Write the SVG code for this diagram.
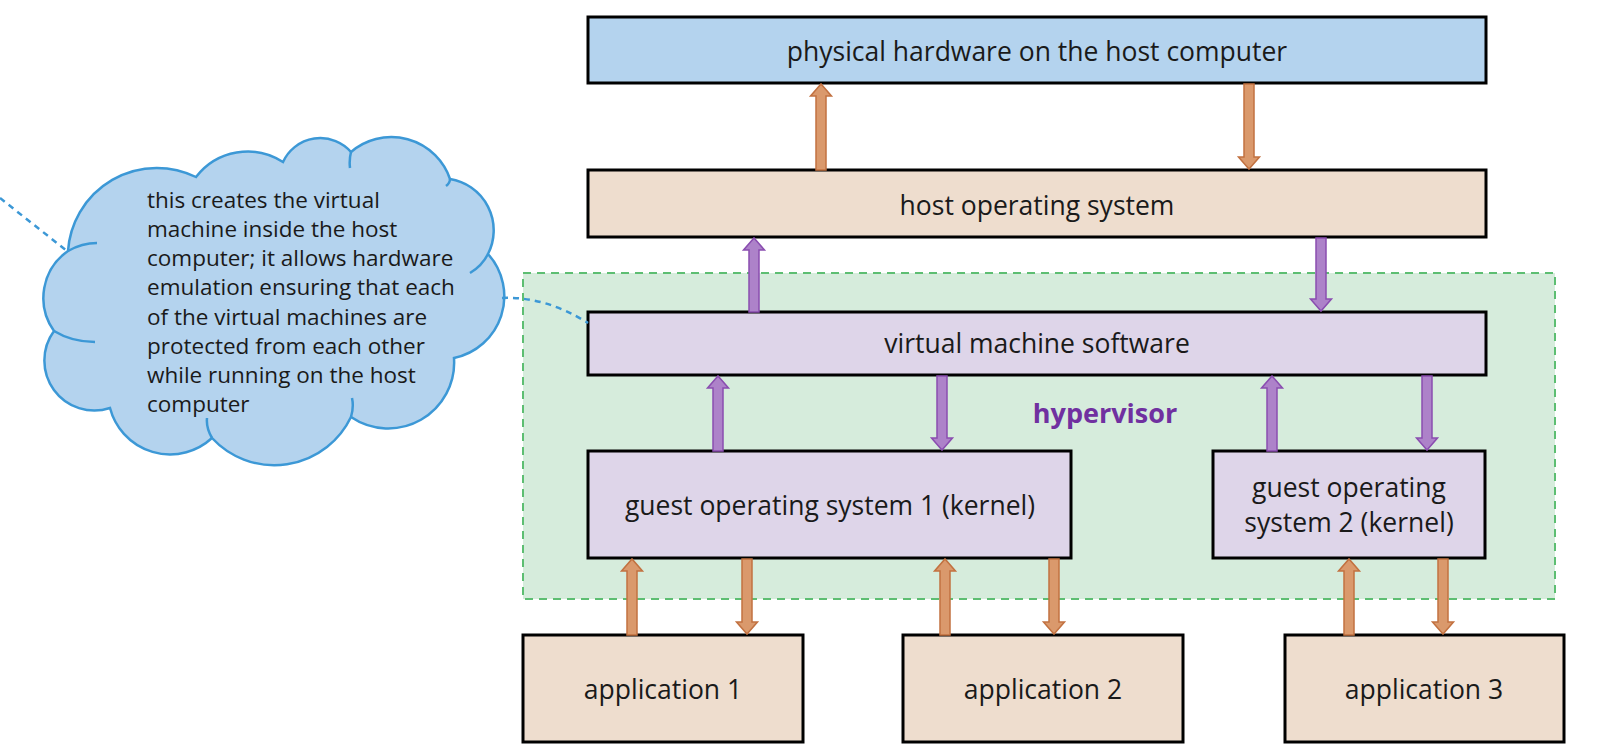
<svg xmlns="http://www.w3.org/2000/svg" width="1602" height="754" viewBox="0 0 1602 754">
<style>
.box{stroke:#000;stroke-width:3}
.blue{fill:#B4D3EE}
.tan{fill:#EEDDCE}
.lilac{fill:#DED5E9}
.lbl{font-family:"Open Sans","Noto Sans",sans-serif;font-size:26.5px;fill:#1a1a1a;text-anchor:middle}
.ct{font-family:"Open Sans","Noto Sans",sans-serif;font-size:22.5px;fill:#1a1a1a}
.hv{font-family:"Open Sans","Noto Sans",sans-serif;font-size:27px;font-weight:bold;fill:#7030A0;text-anchor:middle}
.ao{fill:#DA996C;stroke:#C27140;stroke-width:1.5}
.ap{fill:#AD82C9;stroke:#8A4DB0;stroke-width:1.5}
.lead{fill:none;stroke:#3C98D6;stroke-width:2.5;stroke-dasharray:6 5}
.cloud{fill:#B4D3EE;stroke:#3C98D6;stroke-width:2.5}
.tail{fill:none;stroke:#3C98D6;stroke-width:2.5}
</style>

<g id="hypervisor">
<rect x="523" y="273" width="1032" height="326" fill="#D6ECDC" stroke="#5DBE72" stroke-width="2" stroke-dasharray="8 6"/>
<text class="hv" x="1105" y="423">hypervisor</text>
</g>

<g id="cloud-note">
<path class="cloud" d="M68,251 A89,89 0 0 1 196,177 A65,65 0 0 1 283,162 A41,41 0 0 1 351,152 A62,62 0 0 1 450,179 A52,52 0 0 1 488,254 A63,63 0 0 1 454,358 A66,66 0 0 1 351,417 A85,85 0 0 1 212,438 A62,62 0 0 1 110,408 A50,50 0 0 1 54,331 A57,57 0 0 1 68,251 Z"/>
<path class="tail" d="M68,251 Q82,243 97,243 M54,331 Q72,342 95,342 M212,438 Q206,428 207,418 M351,417 Q354,407 352,398 M488,254 Q482,266 470,273 M351,152 Q349,160 350,168 M450,179 Q450,183 446,186"/>
<text class="ct"><tspan x="147" y="208">this creates the virtual</tspan><tspan x="147" y="237">machine inside the host</tspan><tspan x="147" y="266">computer; it allows hardware</tspan><tspan x="147" y="295">emulation ensuring that each</tspan><tspan x="147" y="325">of the virtual machines are</tspan><tspan x="147" y="354">protected from each other</tspan><tspan x="147" y="383">while running on the host</tspan><tspan x="147" y="412">computer</tspan></text>
</g>

<g id="physical-hardware">
<rect class="box blue" x="588" y="17" width="898" height="66"/>
<text class="lbl" x="1037" y="61">physical hardware on the host computer</text>
</g>
<g id="host-os">
<rect class="box tan" x="588" y="170" width="898" height="67"/>
<text class="lbl" x="1037" y="215">host operating system</text>
</g>
<g id="vm-software">
<rect class="box lilac" x="588" y="312" width="898" height="63"/>
<text class="lbl" x="1037" y="353">virtual machine software</text>
</g>
<g id="guest-os-1">
<rect class="box lilac" x="588" y="451" width="483" height="107"/>
<text class="lbl" x="830" y="515">guest operating system 1 (kernel)</text>
</g>
<g id="guest-os-2">
<rect class="box lilac" x="1213" y="451" width="272" height="107"/>
<text class="lbl" x="1349" y="497">guest operating</text>
<text class="lbl" x="1349" y="532">system 2 (kernel)</text>
</g>
<g id="application-1">
<rect class="box tan" x="523" y="635" width="280" height="107"/>
<text class="lbl" x="663" y="699">application 1</text>
</g>
<g id="application-2">
<rect class="box tan" x="903" y="635" width="280" height="107"/>
<text class="lbl" x="1043" y="699">application 2</text>
</g>
<g id="application-3">
<rect class="box tan" x="1285" y="635" width="279" height="107"/>
<text class="lbl" x="1424" y="699">application 3</text>
</g>

<g id="connectors">
<path class="lead" d="M0,198 L67,251"/>
<path class="lead" d="M502,298 Q545,296 588,323"/>
<path class="ao" d="M816,170 V96 H810.5 L821,84 L831.5,96 H826 V170 Z"/>
<path class="ao" d="M1244,84 V157 H1238.5 L1249,169 L1259.5,157 H1254 V84 Z"/>
<path class="ap" d="M749,312 V250 H743.5 L754,238 L764.5,250 H759 V312 Z"/>
<path class="ap" d="M1316,238 V299 H1310.5 L1321,311 L1331.5,299 H1326 V238 Z"/>
<path class="ap" d="M713,451 V388 H707.5 L718,376 L728.5,388 H723 V451 Z"/>
<path class="ap" d="M937,376 V438 H931.5 L942,450 L952.5,438 H947 V376 Z"/>
<path class="ap" d="M1267,451 V388 H1261.5 L1272,376 L1282.5,388 H1277 V451 Z"/>
<path class="ap" d="M1422,376 V438 H1416.5 L1427,450 L1437.5,438 H1432 V376 Z"/>
<path class="ao" d="M627,635 V571 H621.5 L632,559 L642.5,571 H637 V635 Z"/>
<path class="ao" d="M742,559 V622 H736.5 L747,634 L757.5,622 H752 V559 Z"/>
<path class="ao" d="M940,635 V571 H934.5 L945,559 L955.5,571 H950 V635 Z"/>
<path class="ao" d="M1049,559 V622 H1043.5 L1054,634 L1064.5,622 H1059 V559 Z"/>
<path class="ao" d="M1344,635 V571 H1338.5 L1349,559 L1359.5,571 H1354 V635 Z"/>
<path class="ao" d="M1438,559 V622 H1432.5 L1443,634 L1453.5,622 H1448 V559 Z"/>
</g>
</svg>
